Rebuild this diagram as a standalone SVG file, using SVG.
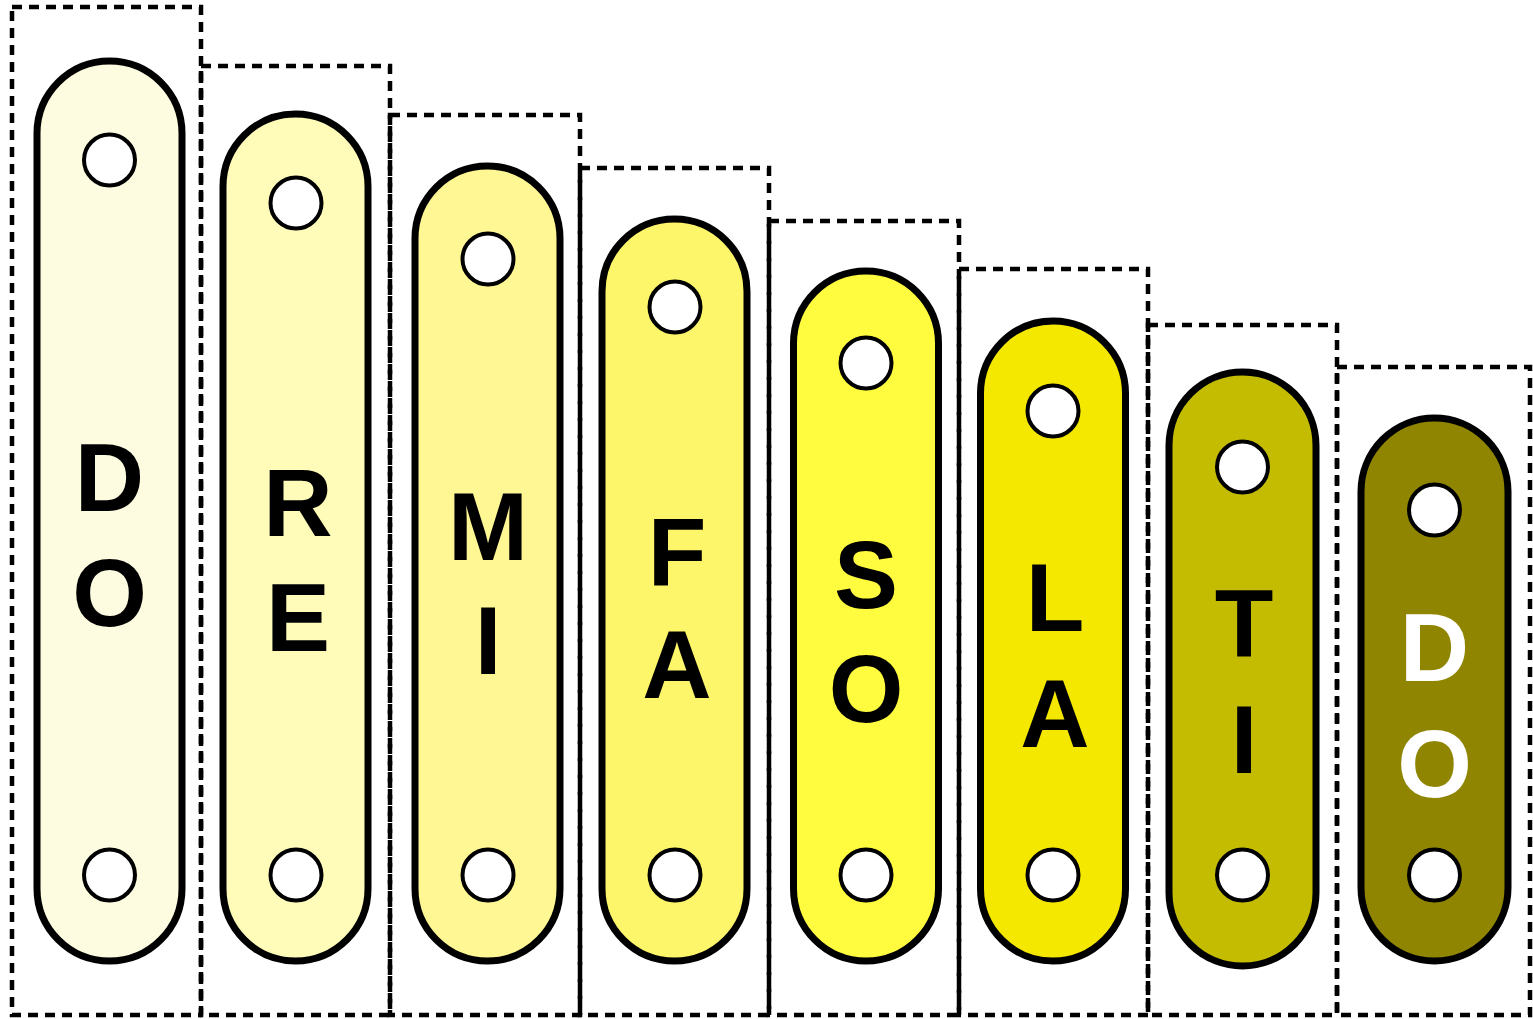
<svg xmlns="http://www.w3.org/2000/svg" width="1533" height="1019" viewBox="0 0 1533 1019">
<style>
.box{fill:none;stroke:#000;stroke-width:4.5;stroke-dasharray:10 7}
.bar{stroke:#000;stroke-width:7}
.hole{fill:#fff;stroke:#000;stroke-width:4}
.lbl{font-family:"Liberation Sans",Arial,sans-serif;font-weight:bold;font-size:96px;text-anchor:middle;fill:#000}
</style>
<rect width="1533" height="1019" fill="#fff"/>
<g id="frames">
<rect class="box" x="12" y="7" width="189" height="1008"/>
<rect class="box" x="201" y="66" width="189" height="949"/>
<rect class="box" x="390" y="115" width="190" height="900"/>
<rect class="box" x="580" y="168" width="189" height="847"/>
<rect class="box" x="769" y="221" width="190" height="794"/>
<rect class="box" x="959" y="269" width="189" height="746"/>
<rect class="box" x="1148" y="325" width="189" height="690"/>
<rect class="box" x="1337" y="367" width="193" height="648"/>
</g>
<g id="bar1">
<rect class="bar" x="37" y="61" width="145" height="900" rx="72.5" fill="#fdfbe0"/>
<circle class="hole" cx="109.5" cy="160" r="25.5"/>
<circle class="hole" cx="109.5" cy="875" r="25.5"/>
<text class="lbl" x="109.5" y="511">D<tspan x="109.5" y="626">O</tspan></text>
</g>
<g id="bar2">
<rect class="bar" x="223" y="114" width="145" height="847" rx="72.5" fill="#fffbb9"/>
<circle class="hole" cx="296" cy="203" r="25.5"/>
<circle class="hole" cx="296" cy="875" r="25.5"/>
<text class="lbl" x="298" y="536">R<tspan x="298" y="651">E</tspan></text>
</g>
<g id="bar3">
<rect class="bar" x="415" y="166" width="145" height="795" rx="72.5" fill="#fef794"/>
<circle class="hole" cx="488" cy="259" r="25.5"/>
<circle class="hole" cx="488" cy="875" r="25.5"/>
<text class="lbl" x="488" y="560">M<tspan x="488" y="674">I</tspan></text>
</g>
<g id="bar4">
<rect class="bar" x="602" y="219" width="145" height="742" rx="72.5" fill="#fdf56a"/>
<circle class="hole" cx="675" cy="307" r="25.5"/>
<circle class="hole" cx="675" cy="875" r="25.5"/>
<text class="lbl" x="677" y="585">F<tspan x="677" y="698">A</tspan></text>
</g>
<g id="bar5">
<rect class="bar" x="793.5" y="271" width="145" height="690" rx="72.5" fill="#fffc40"/>
<circle class="hole" cx="866" cy="363" r="25.5"/>
<circle class="hole" cx="866" cy="875" r="25.5"/>
<text class="lbl" x="866" y="608">S<tspan x="866" y="722">O</tspan></text>
</g>
<g id="bar6">
<rect class="bar" x="980.5" y="321" width="145" height="640" rx="72.5" fill="#f5e800"/>
<circle class="hole" cx="1053" cy="411" r="25.5"/>
<circle class="hole" cx="1053" cy="875" r="25.5"/>
<text class="lbl" x="1055" y="631">L<tspan x="1055" y="747">A</tspan></text>
</g>
<g id="bar7">
<rect class="bar" x="1169" y="372" width="147" height="594" rx="73.5" fill="#c4bc00"/>
<circle class="hole" cx="1242.5" cy="467" r="25.5"/>
<circle class="hole" cx="1242.5" cy="875" r="25.5"/>
<text class="lbl" x="1244" y="657">T<tspan x="1244" y="773">I</tspan></text>
</g>
<g id="bar8">
<rect class="bar" x="1361" y="418" width="147" height="543" rx="73.5" fill="#8f8500"/>
<circle class="hole" cx="1434.5" cy="510" r="25.5"/>
<circle class="hole" cx="1434.5" cy="875" r="25.5"/>
<text class="lbl" x="1434.5" y="681" style="fill:#fff">D<tspan x="1434.5" y="797">O</tspan></text>
</g>
</svg>
